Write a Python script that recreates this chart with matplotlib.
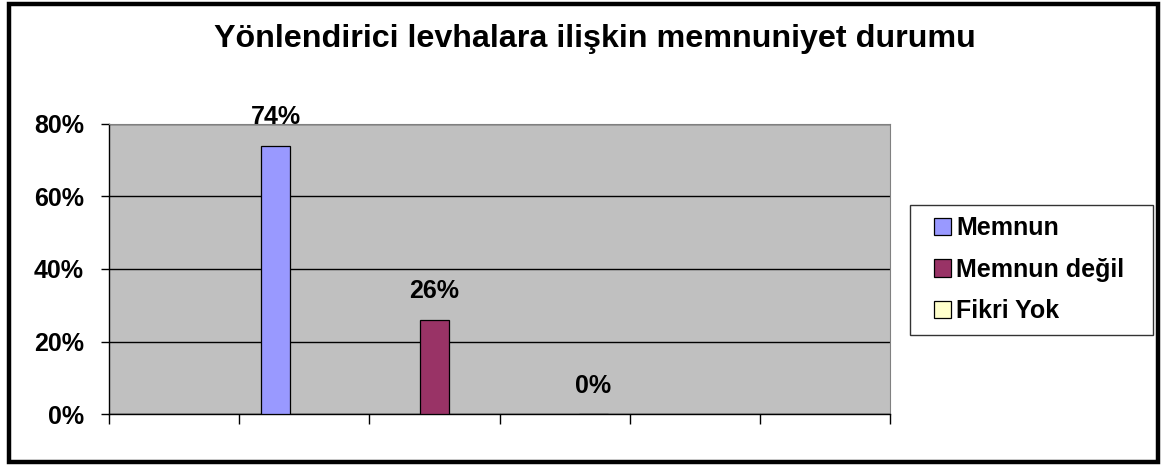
import matplotlib
matplotlib.use('Agg')
import matplotlib.pyplot as plt
from matplotlib.patches import Rectangle, Patch
from matplotlib.legend_handler import HandlerPatch
from matplotlib.ticker import FuncFormatter

plt.rcParams['font.family'] = ['Liberation Sans', 'DejaVu Sans']
plt.rcParams['font.weight'] = 'bold'

# Data
title = 'Yönlendirici levhalara ilişkin memnuniyet durumu'
series = ['Memnun', 'Memnun değil', 'Fikri Yok']
values = [0.74, 0.26, 0.0]
colors = ['#9999FF', '#993366', '#FFFFCC']
yticks = [0.0, 0.2, 0.4, 0.6, 0.8]
nSlots = 6

W, H = 1161, 466
fig = plt.figure(figsize=(W / 100, H / 100), dpi=100)
fig.patch.set_facecolor('white')

# outer chart border
fig.patches.append(Rectangle((8.5 / W, 4.5 / H), 1149 / W, 458 / H, transform=fig.transFigure,
                             fill=False, edgecolor='black', linewidth=3.2, zorder=10))

ax = fig.add_axes([109 / W, 1 - 414 / H, 781 / W, 290 / H])
ax.set_facecolor('#C0C0C0')
ax.set_xlim(0, nSlots)
ax.set_ylim(0, 0.8)

# bars sit in staggered slots along the category axis
start, step, width = 1.28, 1.22, 0.223
handles = []
for i, (name, val, col) in enumerate(zip(series, values, colors)):
    x = start + i * step
    ax.bar(x, val, width=width, color=col, edgecolor='black', linewidth=0.9, zorder=3)
    ax.annotate('{:.0f}%'.format(val * 100), (x, val), xytext=(0, 20.5), textcoords='offset points',
                ha='center', va='center', fontsize=18, fontweight='bold', zorder=4,
                annotation_clip=False)
    handles.append(Patch(facecolor=col, edgecolor='black', linewidth=0.9, label=name))

ax.set_yticks(yticks)
ax.yaxis.set_major_formatter(FuncFormatter(lambda v, p: '{:.0f}%'.format(v * 100)))
ax.set_xticks(range(nSlots + 1))
ax.set_xticklabels([])
ax.grid(axis='y', color='black', linewidth=1.0, zorder=1)
ax.tick_params(axis='y', length=6, width=1, labelsize=18, pad=12)
ax.tick_params(axis='x', length=7, width=1)
for lbl in ax.get_yticklabels():
    lbl.set_fontweight('bold')
for s in ['top', 'right']:
    ax.spines[s].set_color('#808080')
for s in ['left', 'bottom']:
    ax.spines[s].set_color('black')
    ax.spines[s].set_linewidth(1.0)

fig.text(595 / W, 1 - 39 / H, title, ha='center', va='center', fontsize=23.2, fontweight='bold')


# small square key pushed to the right end of the handle box
def squareKey(legend, orig_handle, xdescent, ydescent, width, height, fontsize):
    side = min(width, height)
    return Rectangle((-xdescent + width - side, -ydescent + (height - side) / 2), side, side)


leg = fig.legend(handles=handles, loc='upper left',
                 bbox_to_anchor=(910 / W, 1 - 333 / H, 243 / W, 128 / H), mode='expand',
                 frameon=True, fancybox=False, edgecolor='black', fontsize=18,
                 handlelength=1.2, handleheight=0.68, handletextpad=0.2,
                 labelspacing=0.7, borderpad=0.45, borderaxespad=0,
                 handler_map={Patch: HandlerPatch(patch_func=squareKey)})
leg.get_frame().set_linewidth(1.0)
for t in leg.get_texts():
    t.set_fontweight('bold')

fig.savefig('out.png', dpi=100)
